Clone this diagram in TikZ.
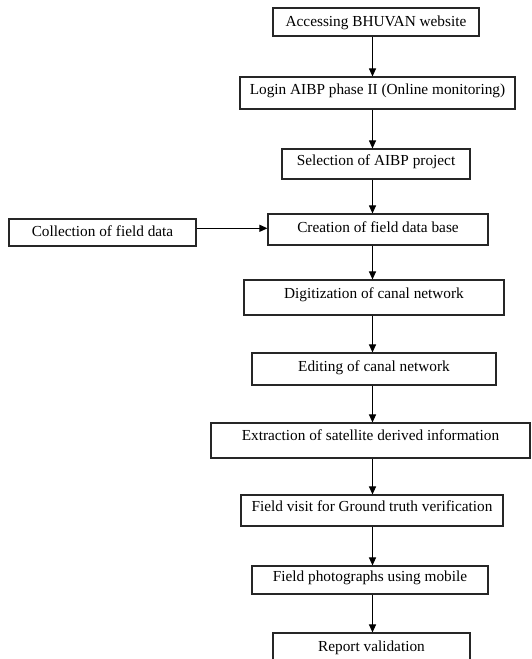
\documentclass[tikz,border=0pt]{standalone}
\usepackage{fontspec}
\setmainfont{Liberation Serif}
\usetikzlibrary{arrows.meta}
\begin{document}
\begin{tikzpicture}[x=1pt,y=-1pt,
  box/.style={draw=black!85, line width=1.1pt, inner sep=0pt, text height=10pt,
    font=\fontsize{15.3}{18}\selectfont, align=center},
  arr/.style={line width=1pt, -{Triangle[length=8pt,width=7pt]}}]
\useasboundingbox (0,0) rectangle (531,659);
\node[box, minimum width=206pt, minimum height=28pt, text depth=2pt]   (b1) at (376,22) {Accessing BHUVAN website};
\node[box, minimum width=275pt, minimum height=32pt, text depth=7.4pt] (b2) at (377.5,93) {Login AIBP phase II (Online monitoring)};
\node[box, minimum width=188pt, minimum height=30pt, text depth=6.6pt] (b3) at (376,164) {Selection of AIBP project};
\node[box, minimum width=187pt, minimum height=27pt, text depth=1.6pt] (coll) at (102.5,232.5) {Collection of field data};
\node[box, minimum width=220pt, minimum height=31pt, text depth=4.4pt] (create) at (378,229.5) {Creation of field data base};
\node[box, minimum width=260pt, minimum height=35pt, text depth=8.4pt] (digit) at (374,297.5) {Digitization of canal network};
\node[box, minimum width=244pt, minimum height=32pt, text depth=4.6pt] (edit) at (374,369) {Editing of canal network};
\node[box, minimum width=319pt, minimum height=35pt, text depth=9.6pt] (extr) at (370.5,440.5) {Extraction of satellite derived information};
\node[box, minimum width=262pt, minimum height=31pt, text depth=9pt]   (visit) at (372,510.5) {Field visit for Ground truth verification};
\node[box, minimum width=236pt, minimum height=28pt, text depth=6.6pt] (photo) at (370,580) {Field photographs using mobile};
\node[box, minimum width=197pt, minimum height=30pt, text depth=4pt]   (report) at (371.5,648) {Report validation};
\coordinate (ax) at (372.5,0);
\coordinate (ay) at (0,228.3);
\draw[arr] (b1.south -| ax) -- (b2.north -| ax);
\draw[arr] (b2.south -| ax) -- (b3.north -| ax);
\draw[arr] (b3.south -| ax) -- (create.north -| ax);
\draw[arr] (coll.east |- ay) -- (create.west |- ay);
\draw[arr] (create.south -| ax) -- (digit.north -| ax);
\draw[arr] (digit.south -| ax) -- (edit.north -| ax);
\draw[arr] (edit.south -| ax) -- (extr.north -| ax);
\draw[arr] (extr.south -| ax) -- (visit.north -| ax);
\draw[arr] (visit.south -| ax) -- (photo.north -| ax);
\draw[arr] (photo.south -| ax) -- (report.north -| ax);
\end{tikzpicture}
\end{document}
